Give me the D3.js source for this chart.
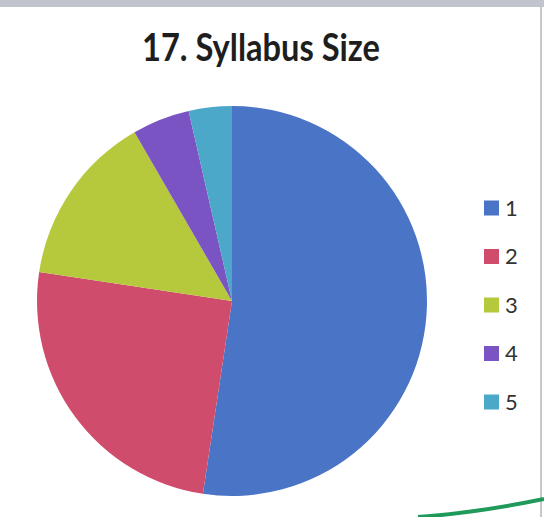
<!DOCTYPE html>
<html>
<head>
<meta charset="utf-8">
<script src="https://cdn.jsdelivr.net/npm/d3@7"></script>
<style>
  html, body { margin: 0; padding: 0; background: #fff; }
  svg { display: block; }
</style>
</head>
<body>
<div id="chart"></div>
<script>
const categories = ['1', '2', '3', '4', '5'];
const counts = [44, 21, 12, 4, 3];
const sliceColors = ['#4a74c6', '#d04c6c', '#b6c83c', '#7a54c2', '#4ba8c8'];
const chartTitle = '17. Syllabus Size';

const width = 544;
const height = 517;

const svg = d3.select('#chart').append('svg')
  .attr('width', width)
  .attr('height', height);

// scanned page frame
svg.append('rect')
  .attr('x', 0).attr('y', 0)
  .attr('width', width).attr('height', 7)
  .attr('fill', '#c0c4cc');
svg.append('line')
  .attr('x1', 541).attr('x2', 541)
  .attr('y1', 7).attr('y2', height)
  .attr('stroke', '#c8c8c8').attr('stroke-width', 2);

svg.append('text')
  .attr('x', 261)
  .attr('y', 61)
  .attr('text-anchor', 'middle')
  .attr('font-family', 'Lato, "Open Sans", sans-serif')
  .attr('font-weight', 'bold')
  .attr('font-size', '38px')
  .attr('textLength', 238)
  .attr('lengthAdjust', 'spacingAndGlyphs')
  .attr('fill', '#1e1e1e')
  .text(chartTitle);

const color = d3.scaleOrdinal().domain(categories).range(sliceColors);

const pie = d3.pie().sort(null).value(d => d.value);
const data = categories.map((c, i) => ({ name: c, value: counts[i] }));
const arc = d3.arc().innerRadius(0).outerRadius(195);

const g = svg.append('g').attr('transform', 'translate(232,301)');
g.selectAll('path')
  .data(pie(data))
  .enter().append('path')
  .attr('d', arc)
  .attr('fill', d => color(d.data.name));

const legendY = d3.scalePoint().domain(categories).range([208, 402]);
const legend = svg.append('g');
const items = legend.selectAll('g')
  .data(categories)
  .enter().append('g')
  .attr('transform', d => `translate(484,${legendY(d)})`);
items.append('rect')
  .attr('x', 0).attr('y', -7.5)
  .attr('width', 15).attr('height', 15)
  .attr('fill', d => color(d));
items.append('text')
  .attr('x', 21)
  .attr('dy', '0.36em')
  .attr('font-family', 'Lato, "Open Sans", sans-serif')
  .attr('font-size', '22px')
  .attr('fill', '#333')
  .text(d => d);

// green pen stroke at the bottom edge of the scan
svg.append('path')
  .attr('d', 'M418,517 C460,514 500,508 544,499')
  .attr('fill', 'none')
  .attr('stroke', '#1f9a5a')
  .attr('stroke-width', 4);
</script>
</body>
</html>
